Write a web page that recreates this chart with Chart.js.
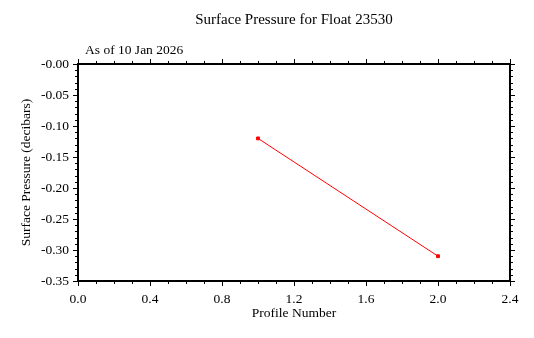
<!DOCTYPE html>
<html>
<head>
<meta charset="utf-8">
<script src="https://cdn.jsdelivr.net/npm/chart.js@4/dist/chart.umd.min.js"></script>
<style>
  html, body { margin: 0; padding: 0; background: #fff; }
  #wrap { width: 534px; height: 338px; }
</style>
</head>
<body>
<div id="wrap"><canvas id="mycanvas"></canvas></div>
<script>
var profiles = [1, 2];
var pressure = [-0.12, -0.31];
var chartTitle = "Surface Pressure for Float 23530";
var subTitle = "As of 10 Jan 2026";
var xLabel = "Profile Number";
var yLabel = "Surface Pressure (decibars)";

var FONT = "'Liberation Serif', 'Times New Roman', serif";

var points = [];
for (var i in profiles) {
  points.push({x: profiles[i], y: pressure[i]});
}

// outward ticks on all four sides plus the frame and titles
var frame = {
  id: 'frame',
  afterDraw: function(chart) {
    var ctx = chart.ctx;
    var a = chart.chartArea;
    var xs = chart.scales.x, ys = chart.scales.y;
    ctx.save();
    ctx.strokeStyle = '#000';
    ctx.lineWidth = 2;
    ctx.strokeRect(a.left, a.top, a.right - a.left, a.bottom - a.top);
    ctx.lineWidth = 1;
    ctx.beginPath();
    for (var k = 0; k <= 24; k++) {
      var px = Math.round(xs.getPixelForValue(k / 10)) + 0.5;
      var len = (k % 4 === 0) ? 5 : 3;
      ctx.moveTo(px, a.bottom); ctx.lineTo(px, a.bottom + len);
      ctx.moveTo(px, a.top); ctx.lineTo(px, a.top - len);
    }
    for (var j = 0; j <= 35; j++) {
      var py = Math.round(ys.getPixelForValue(-j / 100)) + 0.5;
      var l2 = (j % 5 === 0) ? 5 : 3;
      ctx.moveTo(a.left, py); ctx.lineTo(a.left - l2, py);
      ctx.moveTo(a.right, py); ctx.lineTo(a.right + l2, py);
    }
    ctx.stroke();
    ctx.fillStyle = '#000';
    ctx.textBaseline = 'middle';
    ctx.font = '15px ' + FONT;
    ctx.textAlign = 'center';
    ctx.fillText(chartTitle, (a.left + a.right) / 2, 20);
    ctx.font = '13.5px ' + FONT;
    ctx.textAlign = 'left';
    ctx.fillText(subTitle, 85, 50);
    ctx.restore();
  }
};

var ctx = document.getElementById('mycanvas');
var chart = new Chart(ctx, {
  type: 'scatter',
  data: {
    datasets: [{
      data: points,
      showLine: true,
      borderColor: '#ff0000',
      backgroundColor: '#ff0000',
      borderWidth: 1,
      pointStyle: 'rect',
      pointRadius: 2,
      pointHoverRadius: 2
    }]
  },
  options: {
    responsive: true,
    maintainAspectRatio: false,
    animation: false,
    layout: { padding: { top: 64, right: 24, left: 0, bottom: 0 } },
    plugins: { legend: { display: false }, tooltip: { enabled: false } },
    scales: {
      x: {
        type: 'linear',
        min: 0, max: 2.4,
        afterFit: function(s) { s.height = 57; },
        grid: { display: false, drawTicks: false },
        border: { display: false },
        ticks: {
          stepSize: 0.4, padding: 10, color: '#000',
          font: { family: FONT, size: 13.5 },
          callback: function(v) { return v.toFixed(1); }
        },
        title: { display: true, text: xLabel, color: '#000',
                 font: { family: FONT, size: 13.5 }, padding: { top: 0, bottom: 16 } }
      },
      y: {
        type: 'linear',
        min: -0.35, max: 0,
        afterFit: function(s) { s.width = 78; },
        grid: { display: false, drawTicks: false },
        border: { display: false },
        ticks: {
          stepSize: 0.05, padding: 9, color: '#000',
          font: { family: FONT, size: 13.5 },
          callback: function(v) { return Math.abs(v) < 1e-9 ? '-0.00' : v.toFixed(2); }
        },
        title: { display: true, text: yLabel, color: '#000',
                 font: { family: FONT, size: 13.5 }, padding: { top: 18, bottom: 0 } }
      }
    }
  },
  plugins: [frame]
});
</script>
</body>
</html>
